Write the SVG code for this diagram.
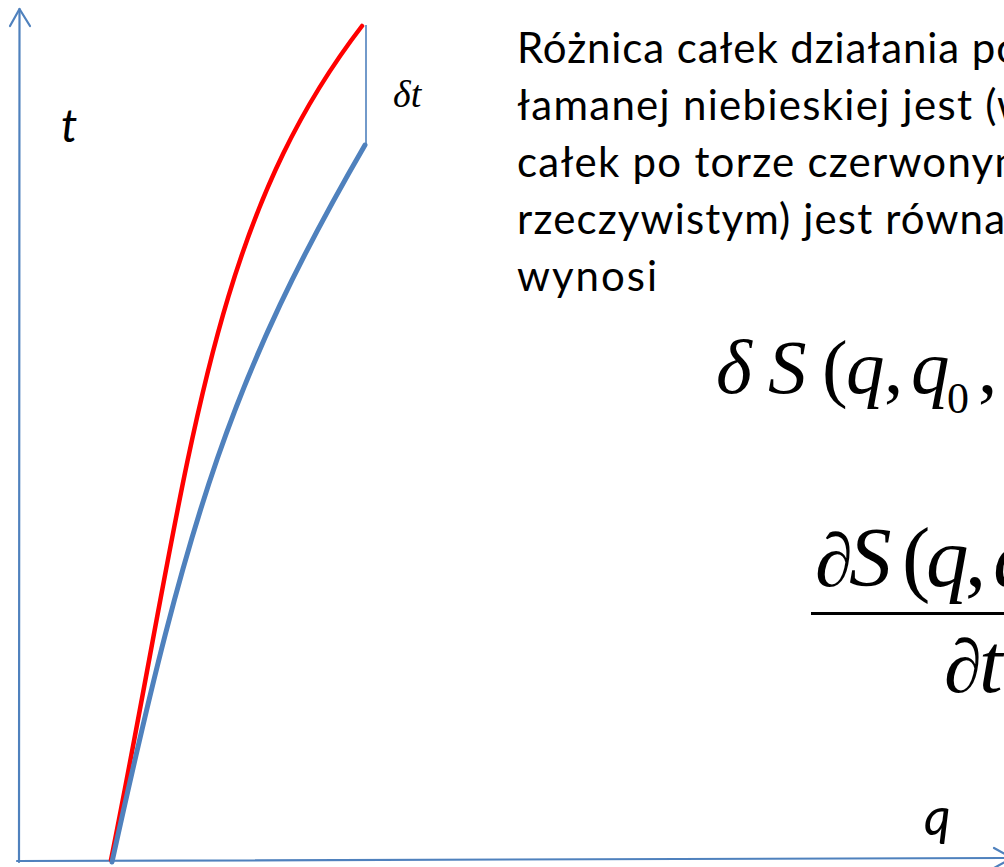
<svg xmlns="http://www.w3.org/2000/svg" width="1004" height="867" viewBox="0 0 1004 867">
<style>
.axis{fill:none;stroke:#4F81BD;stroke-width:2.2;stroke-linecap:round;stroke-linejoin:round}
.red{fill:none;stroke:#FF0000;stroke-width:4.5;stroke-linecap:round}
.blue{fill:none;stroke:#4F81BD;stroke-width:5;stroke-linecap:round}
.thin{fill:none;stroke:#4F81BD;stroke-width:1.6}
.body{font-family:Lato,"Liberation Sans",sans-serif;font-size:42px;fill:#000}
.lbl{font-family:Lato,"Liberation Sans",sans-serif;font-style:italic;fill:#000}
.math{font-family:"Liberation Serif","DejaVu Serif",serif;fill:#000}
</style>
<rect width="1004" height="867" fill="#fff"/>
<g id="axes">
<line class="axis" x1="19" y1="862" x2="19.5" y2="9"/>
<polyline class="axis" points="10,26 19.5,9 30,26"/>
<line class="axis" x1="17" y1="861" x2="1010" y2="858"/>
<polyline class="axis" points="994,848 1012,858 994,868"/>
</g>
<g id="connectors">
<path id="red-path" class="red" d="M111,860 C191,460 208,226 362,26"/>
<path id="blue-path" class="blue" d="M112,862 C189,512 231.6,375 365,145"/>
<line id="delta-line" class="thin" x1="366" y1="25" x2="366" y2="145"/>
</g>
<g id="label-t"><text class="lbl" x="61" y="142" font-size="46">t</text></g>
<g id="label-dt"><text class="math" font-style="italic" x="393" y="107" font-size="38">δt</text></g>
<g id="label-q"><text class="lbl" x="924" y="835" font-size="52">q</text></g>
<g id="text-block">
<text class="body" x="517" y="63" textLength="503" lengthAdjust="spacing">Różnica całek działania po</text>
<text class="body" x="517" y="120" textLength="513" lengthAdjust="spacing">łamanej niebieskiej jest (w</text>
<text class="body" x="517" y="177" textLength="512" lengthAdjust="spacing">całek po torze czerwonym</text>
<text class="body" x="517" y="234" textLength="488" lengthAdjust="spacing">rzeczywistym) jest równa</text>
<text class="body" x="517" y="291" textLength="140" lengthAdjust="spacing">wynosi</text>
</g>
<g id="formula-1">
<text class="math" y="393" font-size="77"><tspan font-style="italic" x="716">δ</tspan><tspan font-style="italic" x="768">S</tspan><tspan x="822">(</tspan><tspan font-style="italic" x="846">q</tspan><tspan x="884">,</tspan><tspan font-style="italic" x="911">q</tspan><tspan x="947" y="413" font-size="44">0</tspan><tspan x="978" y="393">,</tspan></text>
</g>
<g id="formula-2">
<text class="math" y="586" font-size="85"><tspan x="815" font-size="76">∂</tspan><tspan font-style="italic" x="849">S</tspan><tspan x="902">(</tspan><tspan font-style="italic" x="926">q</tspan><tspan x="965">,</tspan><tspan font-style="italic" x="993">q</tspan></text>
<line x1="811" y1="613.5" x2="1004" y2="613.5" stroke="#000" stroke-width="3"/>
<text class="math" y="692" font-size="85"><tspan x="944" font-size="76">∂</tspan><tspan font-style="italic" x="979">t</tspan></text>
</g>
</svg>
